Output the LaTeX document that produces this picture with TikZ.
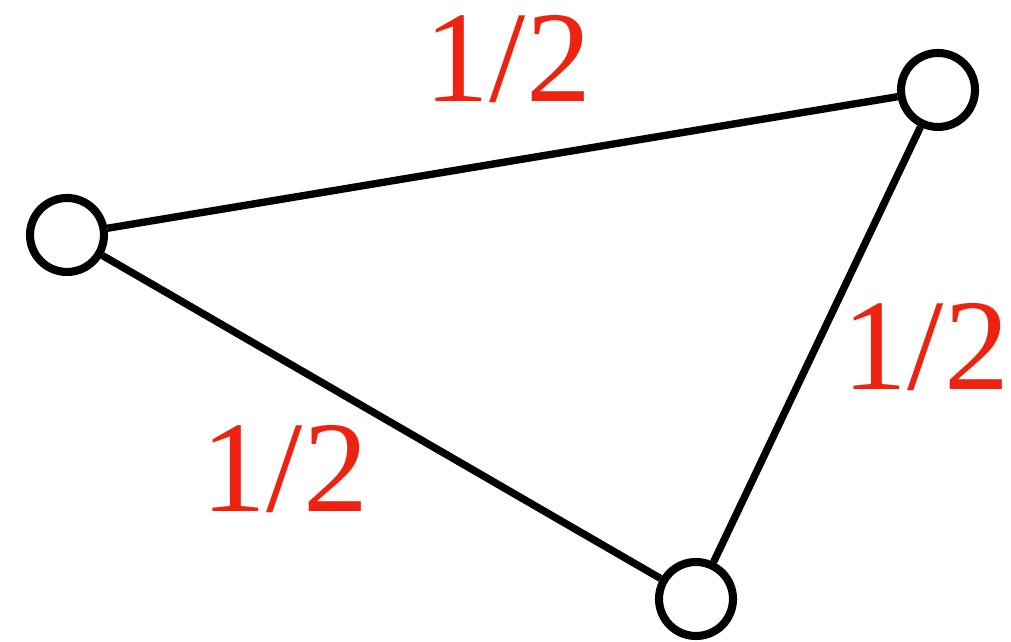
\documentclass[tikz,border=0pt]{standalone}
\usepackage{fontspec}
\newfontfamily\weightfont{Liberation Serif}
\usepackage{xcolor}
\usepackage{tikz}
\definecolor{halfred}{RGB}{238,34,17}

\begin{document}
\begin{tikzpicture}[
        vert/.style={circle, draw=black, fill=white, line width=2.3pt, minimum size=0.74cm, inner sep=0pt},
        edge/.style={line width=2.1pt},
        weight/.style={text=halfred, font=\weightfont\fontsize{37}{44}\selectfont, anchor=base, inner sep=0pt}
    ]
        \useasboundingbox (0, 0) rectangle (10.11, 6.42);

        \node[vert] (left) at (0.67, 4.07) {};
        \node[vert] (right) at (9.38, 5.52) {};
        \node[vert] (bottom) at (6.96, 0.43) {};

        \draw[edge] (left) -- (right);
        \draw[edge] (left) -- (bottom);
        \draw[edge] (right) -- (bottom);

        \node[weight] (wtop) at (5.08, 5.40) {1/2};
        \node[weight] (wright) at (9.26, 2.52) {1/2};
        \node[weight] (wleft) at (2.85, 1.30) {1/2};
    \end{tikzpicture}
\end{document}
